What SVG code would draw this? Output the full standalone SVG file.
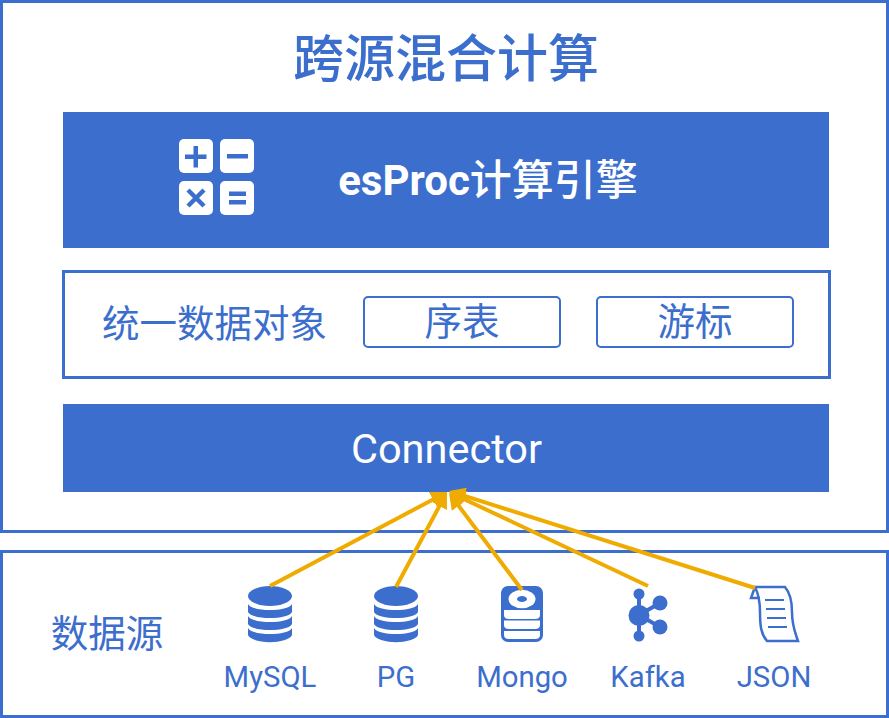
<svg xmlns="http://www.w3.org/2000/svg" width="889" height="718" viewBox="0 0 889 718">
<style>
text{font-family:Roboto,"Noto Sans CJK SC",sans-serif;fill:#3c6ecd;text-anchor:middle}
.w{fill:#fff}
.box{fill:#fff;stroke:#3c6ecd;stroke-width:3}
.bar{fill:#3c6ecd}
.ic{fill:#3c6ecd}
.ln{fill:none;stroke:#3c6ecd;stroke-width:2.5}
.arrow{fill:none;stroke:#f0ab00;stroke-width:4;marker-end:url(#ah)}
</style>
<defs>
<marker id="ah" markerUnits="userSpaceOnUse" markerWidth="20" markerHeight="20" refX="12" refY="9" orient="auto"><path d="M0 .5L16 9L0 17.500Z" fill="#f0ab00"/></marker>
<g id="db"><ellipse cx="22" cy="10" rx="22" ry="10"/>
<path d="M0 18C4 26 40 26 44 18V26C40 34 4 34 0 26Z"/><path d="M0 30C4 38 40 38 44 30V38C40 46 4 46 0 38Z"/><path d="M0 42C4 50 40 50 44 42V49C40 58.500 4 58.500 0 49Z"/></g>
</defs>
<g id="outer"><rect class="box" x="1.500" y="1.500" width="886" height="530"/>
<text x="446" y="77" font-size="51" font-weight="500">跨源混合计算</text></g>
<g id="engine"><rect class="bar" x="63" y="112" width="766" height="136"/>
<rect class="w" x="179" y="139" width="34" height="34" rx="5"/><rect class="w" x="220" y="139" width="34" height="34" rx="5"/><rect class="w" x="179" y="181" width="34" height="34" rx="5"/><rect class="w" x="220" y="181" width="34" height="34" rx="5"/>
<path class="ic" d="M185 154.500h8.500V146h4.500v8.500h8.500v4.500h-8.500v8.500h-4.500v-8.500H185zM227 154h21v4.500h-21zM229 191.500h17v4.500h-17zM229 200h17v4.500h-17z"/>
<path d="M188 190L204 206M204 190L188 206" stroke="#3c6ecd" stroke-width="4.500" fill="none"/>
<text x="488" y="195" font-size="42" font-weight="700" style="fill:#fff">esProc<tspan font-weight="500" style="fill:#fff">计算引擎</tspan></text></g>
<g id="objects"><rect class="box" x="63.500" y="271.500" width="766" height="106"/>
<text x="214.500" y="337" font-size="37.500">统一数据对象</text></g>
<g id="table"><rect x="364" y="297" width="196" height="50" rx="4" fill="#fff" stroke="#3c6ecd" stroke-width="2"/><text x="462" y="335" font-size="37.500">序表</text></g>
<g id="cursor"><rect x="597" y="297" width="196" height="50" rx="4" fill="#fff" stroke="#3c6ecd" stroke-width="2"/><text x="695" y="335" font-size="37.500">游标</text></g>
<g id="connector"><rect class="bar" x="63" y="404" width="766" height="88"/><text x="446.500" y="463" font-size="41.500" style="fill:#fff">Connector</text></g>
<g id="sources"><rect class="box" x="1.500" y="551.500" width="886" height="165"/><text x="107" y="647" font-size="37.500">数据源</text></g>
<g id="mysql"><use href="#db" x="248" y="586" class="ic"/><text x="270" y="687" font-size="29.300">MySQL</text></g>
<g id="pg"><use href="#db" x="374" y="586" class="ic"/><text x="396" y="687" font-size="29.300">PG</text></g>
<g id="mongo"><rect x="501" y="586" width="42" height="56" rx="7" class="ic"/>
<ellipse cx="522" cy="599" rx="13.500" ry="9.300" fill="#fff"/><ellipse cx="522" cy="599" rx="5" ry="3" class="ic"/>
<path d="M504 610H540V615Q540 619 535 619H509Q504 619 504 615ZM504 620.500H540V625Q540 629 535 629H509Q504 629 504 625ZM504 631H540V635Q540 639 535 639H509Q504 639 504 635Z" fill="#fff"/>
<text x="522" y="687" font-size="29.300">Mongo</text></g>
<g id="kafka"><path d="M639 595V635M639 615L660 603M639 615L660 627" stroke="#3c6ecd" stroke-width="4" fill="none"/>
<circle cx="639" cy="615.500" r="10.500" class="ic"/><circle cx="639" cy="594" r="5.500" class="ic"/><circle cx="639" cy="636" r="5.500" class="ic"/><circle cx="660" cy="603" r="7.500" class="ic"/><circle cx="660" cy="627" r="7.500" class="ic"/>
<text x="648" y="687" font-size="29.300">Kafka</text></g>
<g id="json"><path class="ln" d="M755 587H785C791 594 792 602 792 612C792 626 795 632 798 641H767C761 634 760 626 760 612C760 603 759 595 755 587ZM755 587L751 598H760"/>
<path d="M765 600H784M766 609H785M767 618H786M768 627H787" stroke="#3c6ecd" stroke-width="2" fill="none"/>
<text x="774" y="687" font-size="29.300">JSON</text></g>
<g id="connectors">
<line class="arrow" x1="270" y1="586" x2="443.500" y2="493.900"/>
<line class="arrow" x1="396" y1="587" x2="445.100" y2="495.500"/>
<line class="arrow" x1="522" y1="590" x2="451.400" y2="496.200"/>
<line class="arrow" x1="648" y1="586" x2="452.600" y2="493.700"/>
<line class="arrow" x1="755" y1="588" x2="452.800" y2="492.200"/>
</g>
</svg>
